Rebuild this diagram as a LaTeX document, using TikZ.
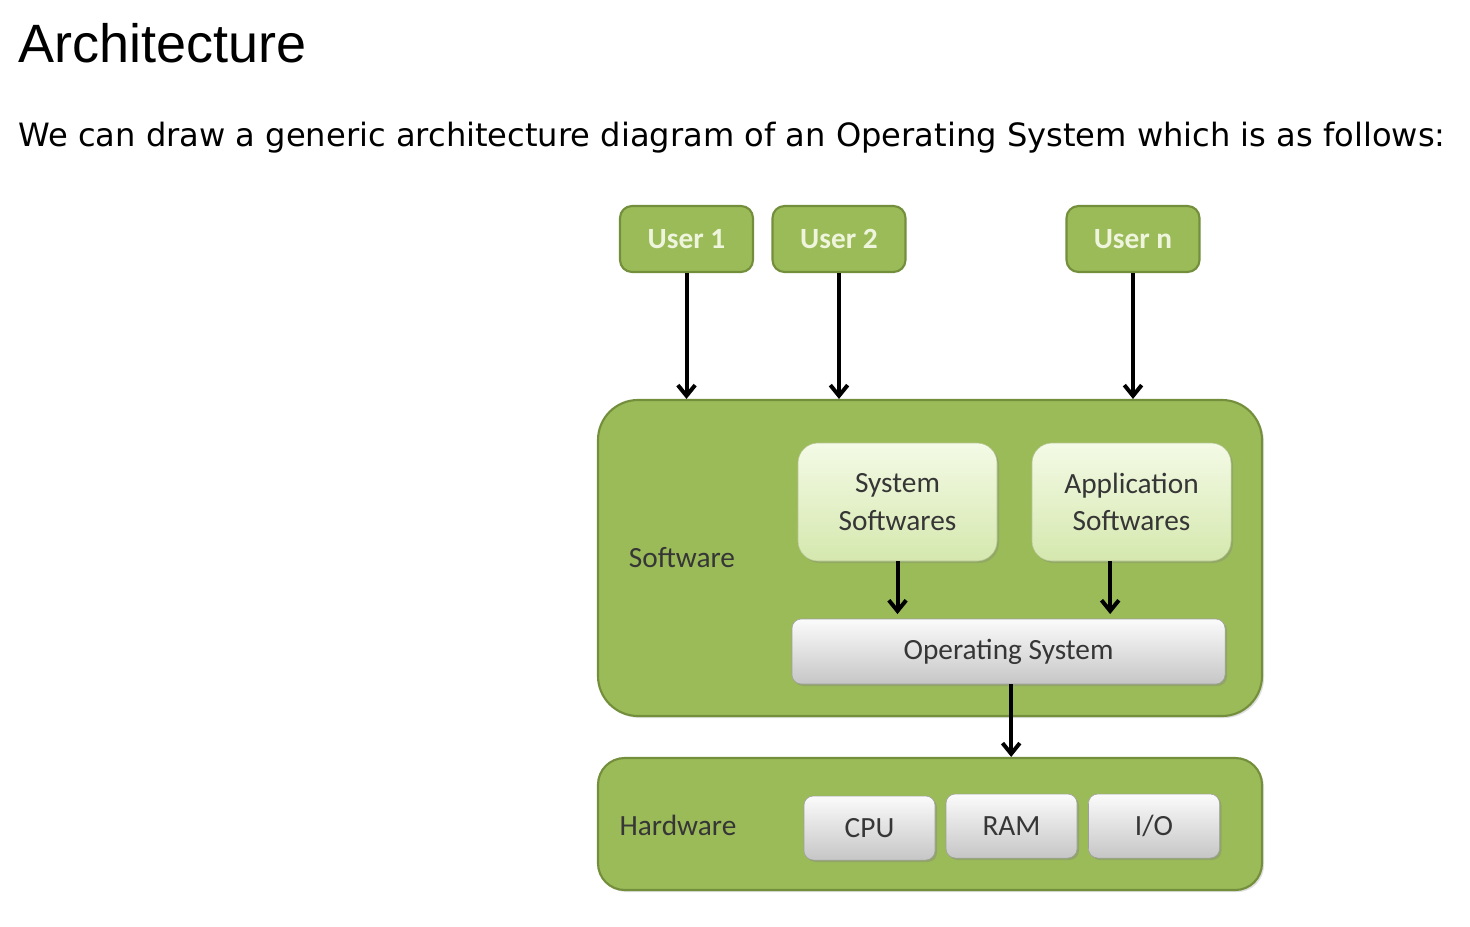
\documentclass[tikz,border=0pt]{standalone}
\usepackage{fontspec}
\setmainfont{Carlito}
\newfontfamily\headfont{Liberation Sans}
\newfontfamily\bodyfont{DejaVu Sans}
\usetikzlibrary{arrows.meta,shadows}
\definecolor{ogreen}{HTML}{9BBB59}
\definecolor{ogreenD}{HTML}{748F3C}
\definecolor{lgTop}{HTML}{F4FAE6}
\definecolor{lgBot}{HTML}{D5E8AE}
\definecolor{gyTop}{HTML}{FBFBFB}
\definecolor{gyBot}{HTML}{C6C6C6}
\definecolor{usertxt}{HTML}{EEF5DC}
\definecolor{lbltxt}{HTML}{363636}
\tikzset{
  pane/.style={draw=ogreenD,line width=1.6pt,fill=ogreen,
    drop shadow={opacity=0.25,shadow xshift=1.5pt,shadow yshift=-1.5pt}},
  userbox/.style={draw=ogreenD,line width=1.6pt,fill=ogreen,rounded corners=9pt,
    minimum width=99.75pt,minimum height=49.5pt,inner sep=0pt,
    font=\fontsize{22}{24}\selectfont\bfseries,text=usertxt},
  softbox/.style={draw=lgBot!85!black,line width=0.4pt,top color=lgTop,bottom color=lgBot,
    rounded corners=15pt,minimum width=149.25pt,minimum height=88.5pt,inner sep=0pt,
    align=center,font=\fontsize{22}{28}\selectfont,text=lbltxt,
    drop shadow={opacity=0.3,shadow xshift=1.5pt,shadow yshift=-1.5pt}},
  greybox/.style={draw=gyBot!80!black,line width=0.4pt,top color=gyTop,bottom color=gyBot,
    rounded corners=7pt,inner sep=0pt,font=\fontsize{22}{24}\selectfont,text=lbltxt,
    drop shadow={opacity=0.35,shadow xshift=1.5pt,shadow yshift=-1.5pt}},
  hwbox/.style={greybox,minimum width=98.25pt,minimum height=48pt},
  lbl/.style={inner sep=0pt,font=\fontsize{22}{24}\selectfont,text=lbltxt},
  flow/.style={line width=3pt,-{Straight Barb[length=8pt,width=13pt,line width=3pt]}},
}
\begin{document}
\begin{tikzpicture}[x=0.75pt,y=-0.75pt]
\useasboundingbox[fill=white] (0,0) rectangle (1470,926);
% texts
\node[anchor=base west,inner sep=0pt,font=\headfont\fontsize{40.5}{44}\selectfont] (title) at (18,62) {Architecture};
\node[anchor=base west,inner sep=0pt,font=\bodyfont\fontsize{24.1}{28}\selectfont] (intro) at (18,146) {We can draw a generic architecture diagram of an Operating System which is as follows:};
% panes
\node[pane,rounded corners=30pt,minimum width=498pt,minimum height=237pt,inner sep=0pt] (sw) at (930,558) {};
\node[pane,rounded corners=20pt,minimum width=498pt,minimum height=99pt,inner sep=0pt] (hw) at (930,824) {};
% users
\node[userbox] (u1) at (686.5,239) {User 1};
\node[userbox] (u2) at (839,239) {User 2};
\node[userbox] (un) at (1133,239) {User n};
% software
\node[lbl] (swl) at (682,558) {Software};
\node[softbox] (sys) at (897.5,502) {System\\Softwares};
\node[softbox] (app) at (1131.5,502) {Application\\Softwares};
\node[greybox,minimum width=324.75pt,minimum height=48.75pt] (os) at (1008.5,651.5) {Operating System};
% hardware
\node[lbl] (hwl) at (678,825) {Hardware};
\node[hwbox] (cpu) at (869.5,828) {CPU};
\node[hwbox] (ram) at (1011.5,826) {RAM};
\node[hwbox] (io) at (1154,826) {I/O};
% arrows
\draw[flow] (u1.south) -- (u1.south |- sw.north);
\draw[flow] (u2.south) -- (u2.south |- sw.north);
\draw[flow] (un.south) -- (un.south |- sw.north);
\draw[flow] (sys.south) -- ([yshift=3.5pt]sys.south |- os.north);
\draw[flow] ([xshift=-16pt]app.south) -- ([xshift=-16pt,yshift=3.5pt]app.south |- os.north);
\draw[flow] ([xshift=2pt]os.south) -- ([xshift=2pt]os.south |- hw.north);
\end{tikzpicture}
\end{document}
